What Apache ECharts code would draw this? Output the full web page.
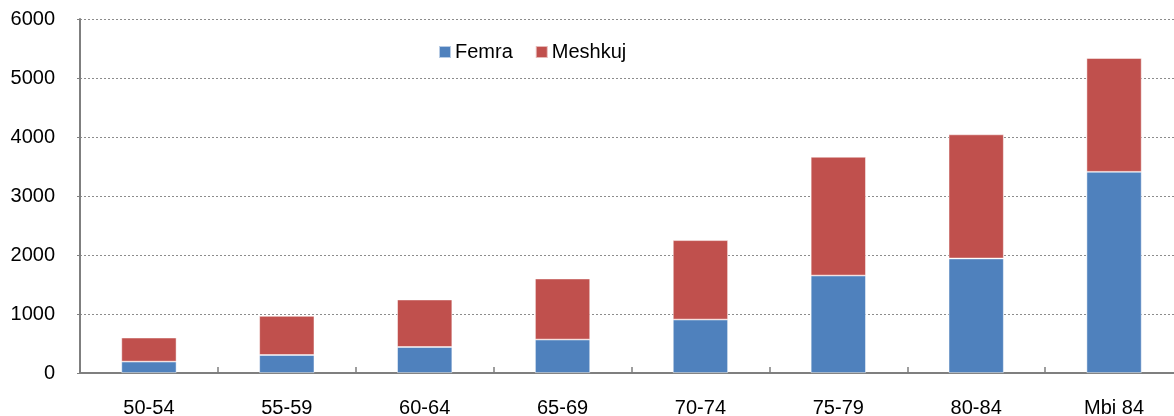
<!DOCTYPE html>
<html>
<head>
<meta charset="utf-8">
<style>
  html, body { margin: 0; padding: 0; background: #fff; }
  #chart { width: 1174px; height: 416px; }
</style>
<script src="https://cdn.jsdelivr.net/npm/echarts@6/dist/echarts.min.js"></script>
</head>
<body>
<div id="chart"></div>
<script>
// 数据
const categories = ["50-54", "55-59", "60-64", "65-69", "70-74", "75-79", "80-84", "Mbi 84"];
const femra = [193, 305, 441, 567, 906, 1652, 1941, 3410];
const meshkuj = [407, 662, 804, 1034, 1345, 2012, 2103, 1928];
const yTicks = [0, 1000, 2000, 3000, 4000, 5000, 6000];

(function () {
    const myChart = echarts.init(document.getElementById("chart"));
    const font = "Liberation Sans";
    const option = {
        animation: false,
        color: ["#4F81BD", "#C0504D"],
        textStyle: { fontFamily: font },
        legend: {
            data: ["Femra", "Meshkuj"],
            left: 433,
            top: 37,
            itemWidth: 12,
            itemHeight: 12,
            itemGap: 22,
            icon: "rect",
            textStyle: { fontSize: 20, color: "#000", fontFamily: font, padding: [0, 0, 0, -1] }
        },
        // 固定绘图区，不让标签挤压
        grid: { left: 80, right: -9, top: 19, bottom: 43, containLabel: false, outerBoundsMode: "none" },
        xAxis: {
            type: "category",
            data: categories,
            axisLine: { lineStyle: { color: "#7f7f7f", width: 2 } },
            axisTick: { show: true, inside: true, length: 6, lineStyle: { color: "#7f7f7f", width: 1.5 } },
            axisLabel: { color: "#000", fontSize: 20, margin: 25, fontFamily: font }
        },
        yAxis: {
            type: "value",
            min: yTicks[0],
            max: yTicks[yTicks.length - 1],
            interval: 1000,
            axisLine: { show: true, lineStyle: { color: "#7f7f7f", width: 2 } },
            axisTick: { show: true, length: 3, lineStyle: { color: "#7f7f7f" } },
            axisLabel: {
                color: "#000", fontSize: 20, margin: 25, fontFamily: font,
                formatter: function (v) { return String(v); }
            },
            splitLine: { lineStyle: { color: "#8c8c8c", type: [2, 2], width: 1 } }
        },
        series: [
            {
                name: "Femra",
                type: "bar",
                stack: "total",
                barWidth: "40%",
                data: femra,
                itemStyle: { borderColor: "rgba(255,255,255,0.6)", borderWidth: 0.8 }
            },
            {
                name: "Meshkuj",
                type: "bar",
                stack: "total",
                barWidth: "40%",
                data: meshkuj,
                itemStyle: { borderColor: "rgba(255,255,255,0.6)", borderWidth: 0.8 }
            }
        ]
    };
    myChart.setOption(option);
    window.addEventListener("resize", function () {
        myChart.resize();
    });
})();
</script>
</body>
</html>
